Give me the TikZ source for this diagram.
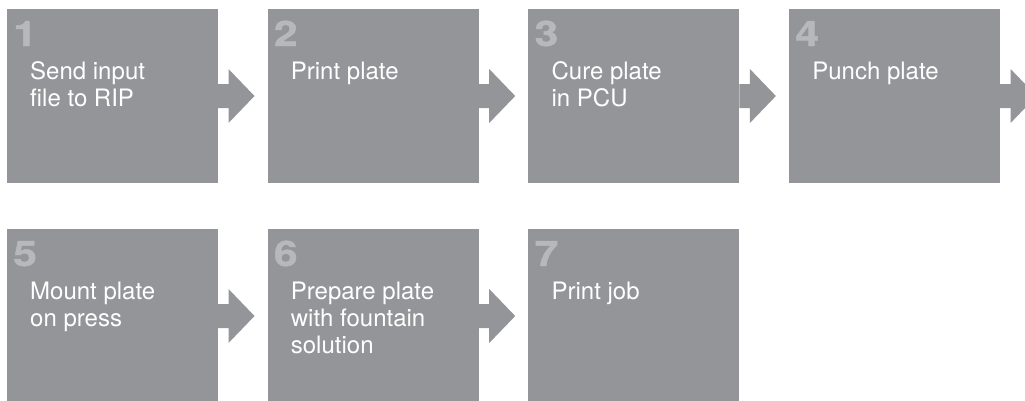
\documentclass[tikz,border=0pt]{standalone}
\usepackage{fontspec}
\setmainfont{TeX Gyre Heros}
\newfontfamily\stepnumfont{TeX Gyre Heros}[FakeStretch=1.22, FakeBold=1.2]
\usetikzlibrary{positioning,calc}
\definecolor{boxgray}{HTML}{939598}
\definecolor{numgray}{HTML}{B7B8BA}

\begin{document}
\begin{tikzpicture}[x=1pt, y=1pt, node distance=46pt and 49.7pt]
\tikzstyle{stepbox}=[fill=boxgray, draw=none, minimum width=211pt, minimum height=174pt, inner sep=0pt, outer sep=0pt]
\tikzstyle{stepnum}=[anchor=base west, inner sep=0pt, text=numgray, font=\stepnumfont\bfseries\fontsize{35}{35}\selectfont]
\tikzstyle{steptext}=[anchor=north west, inner sep=0pt, text=white, align=left, font=\fontsize{24}{27}\selectfont]
\tikzstyle{steparrow}=[fill=boxgray]
\useasboundingbox (0,0) rectangle (1025,-400);
% boxes
\node[stepbox, anchor=north west] (b1) at (7,-9) {};
\node[stepbox, right=of b1] (b2) {};
\node[stepbox, right=of b2] (b3) {};
\node[stepbox, right=of b3] (b4) {};
\node[stepbox, below=of b1] (b5) {};
\node[stepbox, right=of b5] (b6) {};
\node[stepbox, right=of b6] (b7) {};
% numbers
\node[stepnum] (n1) at ($(b1.north west)+(6,-37)$) {1};
\node[stepnum] (n2) at ($(b2.north west)+(6,-37)$) {2};
\node[stepnum] (n3) at ($(b3.north west)+(6,-37)$) {3};
\node[stepnum] (n4) at ($(b4.north west)+(6,-37)$) {4};
\node[stepnum] (n5) at ($(b5.north west)+(6,-37)$) {5};
\node[stepnum] (n6) at ($(b6.north west)+(6,-37)$) {6};
\node[stepnum] (n7) at ($(b7.north west)+(6,-37)$) {7};
% labels
\node[steptext] (t1) at ($(b1.north west)+(23,-52.5)$) {Send input\\file to RIP};
\node[steptext] (t2) at ($(b2.north west)+(23,-52.5)$) {Print plate};
\node[steptext] (t3) at ($(b3.north west)+(23,-52.5)$) {Cure plate\\in PCU};
\node[steptext] (t4) at ($(b4.north west)+(23,-52.5)$) {Punch plate};
\node[steptext] (t5) at ($(b5.north west)+(23,-52.5)$) {Mount plate\\on press};
\node[steptext] (t6) at ($(b6.north west)+(23,-52.5)$) {Prepare plate\\with fountain\\solution};
\node[steptext] (t7) at ($(b7.north west)+(23,-52.5)$) {Print job};
% arrows
\foreach \s in {b1,b2,b3,b4,b5,b6}
  \fill[steparrow] ([yshift=12pt]\s.east) -- ++(10.5,0) -- ++(0,15) -- ++(26,-27)
    -- ++(-26,-27) -- ++(0,15) -- ++(-10.5,0) -- cycle;
\end{tikzpicture}
\end{document}
